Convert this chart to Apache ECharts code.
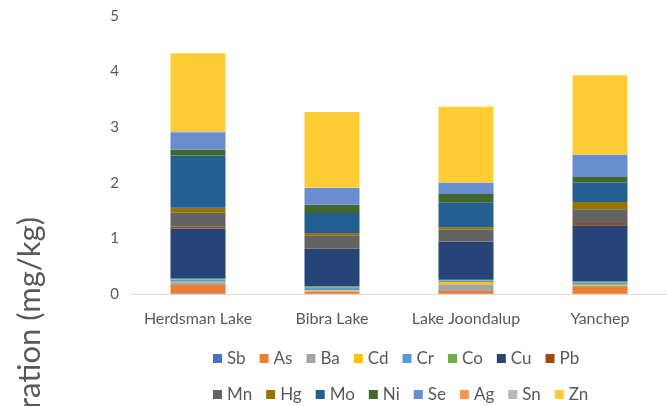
<!DOCTYPE html>
<html>
<head>
<meta charset="utf-8">
<script src="https://cdn.jsdelivr.net/npm/echarts@6/dist/echarts.min.js"></script>
<style>
  html, body { margin: 0; padding: 0; background: #fff; }
  #chart { width: 667px; height: 406px; }
</style>
</head>
<body>
<div id="chart"></div>
<script>
// sites (x categories)
var sites = ['Herdsman Lake', 'Bibra Lake', 'Lake Joondalup', 'Yanchep'];
var yTicks = [0, 1, 2, 3, 4, 5];

// element concentrations, mg/kg, one value per site
var Sb = [0.01, 0.005, 0.005, 0.005];
var As = [0.15, 0.04, 0.05, 0.12];
var Ba = [0.05, 0.02, 0.12, 0.02];
var Cd = [0.01, 0.005, 0.04, 0.02];
var Cr = [0.04, 0.05, 0.03, 0.04];
var Co = [0.02, 0.02, 0.01, 0.02];
var Cu = [0.90, 0.67, 0.69, 1.01];
var Pb = [0.03, 0.005, 0.005, 0.04];
var Mn = [0.25, 0.24, 0.21, 0.25];
var Hg = [0.09, 0.04, 0.04, 0.13];
var Mo = [0.94, 0.36, 0.45, 0.35];
var Ni = [0.11, 0.15, 0.15, 0.10];
var Se = [0.31, 0.30, 0.20, 0.40];
var Ag = [0.01, 0.005, 0.005, 0.005];
var Sn = [0.01, 0.005, 0.005, 0.005];
var Zn = [1.40, 1.36, 1.36, 1.42];

var elements = [
    ['Sb', Sb], ['As', As], ['Ba', Ba], ['Cd', Cd], ['Cr', Cr], ['Co', Co], ['Cu', Cu], ['Pb', Pb],
    ['Mn', Mn], ['Hg', Hg], ['Mo', Mo], ['Ni', Ni], ['Se', Se], ['Ag', Ag], ['Sn', Sn], ['Zn', Zn]
];

// office-like palette
var colors = ['#4472C4', '#ED7D31', '#A5A5A5', '#FFC000', '#5B9BD5', '#70AD47', '#264478', '#9E480E',
              '#636363', '#997300', '#255E91', '#43682B', '#698ED0', '#F1975A', '#B7B7B7', '#FFCD33'];

var font = 'Lato, "Open Sans", sans-serif';

var series = elements.map(function (e) {
    return {
        name: e[0],
        type: 'bar',
        stack: 'total',
        barWidth: 55,
        data: e[1]
    };
});

var legendStyle = {
    orient: 'horizontal',
    left: 208,
    itemWidth: 9,
    itemHeight: 9,
    itemGap: 14,
    icon: 'rect',
    textStyle: { fontFamily: font, fontSize: 17, color: '#595959' }
};

var myChart = echarts.init(document.getElementById('chart'));
var option = {
    color: colors,
    animation: false,
    grid: { left: 131, top: 16, width: 554, height: 278 },
    legend: [
        Object.assign({ top: 345, data: elements.slice(0, 8).map(function (e) { return e[0]; }) }, legendStyle),
        Object.assign({ top: 381, data: elements.slice(8).map(function (e) { return e[0]; }) }, legendStyle)
    ],
    xAxis: {
        type: 'category',
        data: sites,
        axisLine: { lineStyle: { color: '#D9D9D9', width: 1 } },
        axisTick: { show: false },
        axisLabel: { interval: 0, fontFamily: font, fontSize: 16, color: '#595959', margin: 17 }
    },
    yAxis: {
        type: 'value',
        min: yTicks[0],
        max: yTicks[yTicks.length - 1],
        interval: 1,
        axisLine: { show: false },
        axisTick: { show: false },
        splitLine: { show: false },
        axisLabel: { fontFamily: font, fontSize: 15, color: '#595959', margin: 12 }
    },
    graphic: [{
        type: 'text',
        x: 30,
        y: 217,
        rotation: Math.PI / 2,
        style: {
            text: 'Concentration (mg/kg)',
            fontFamily: font,
            fontSize: 31,
            fill: '#595959',
            align: 'right',
            verticalAlign: 'middle'
        }
    }],
    series: series
};
myChart.setOption(option);
</script>
</body>
</html>
